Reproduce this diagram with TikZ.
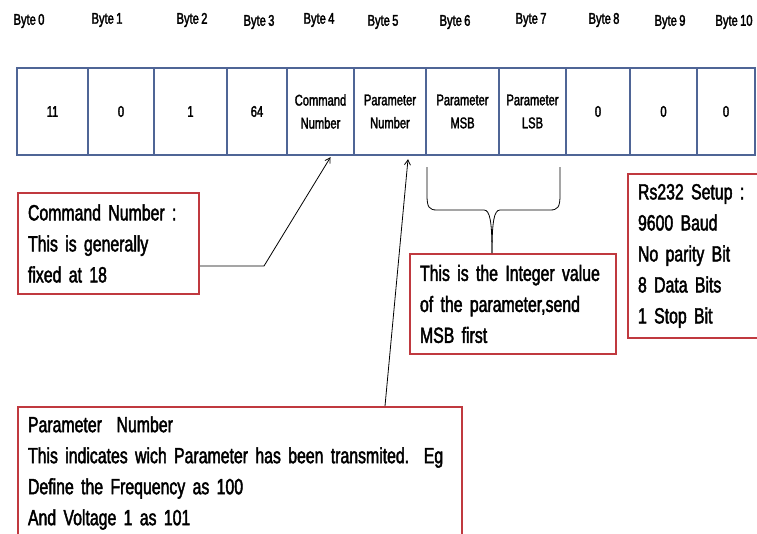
\documentclass[tikz,border=0pt]{standalone}
\usepackage{fontspec}
\setmainfont{Liberation Sans}[FakeStretch=0.72, FakeBold=2, WordSpace=0.75]
\usetikzlibrary{arrows.meta}
\definecolor{cellblue}{HTML}{4F6596}
\definecolor{boxred}{HTML}{C0393F}
\tikzset{
  cell/.style={draw=cellblue, line width=2.4pt, minimum height=87pt, inner sep=0pt, align=center, font=\fontsize{15.5}{23}\selectfont},
  bytelab/.style={font=\fontsize{15.5}{16}\selectfont, inner sep=0pt},
  redbox/.style={draw=boxred, line width=2pt, anchor=north west, inner xsep=10pt, inner ysep=0pt, align=left, font=\fontsize{22}{31}\selectfont},
  conn/.style={draw=black, line width=0.8pt},
  arr/.style={conn, -{Straight Barb[length=5pt,width=6pt]}}
}
\begin{document}
\begin{tikzpicture}[x=1pt,y=-1pt]
\useasboundingbox (0,0) rectangle (757,533);
% byte labels
\node[bytelab] (b0) at (29,21) {Byte 0};
\node[bytelab] (b1) at (107,20) {Byte 1};
\node[bytelab] (b2) at (192,20) {Byte 2};
\node[bytelab] (b3) at (259,22) {Byte 3};
\node[bytelab] (b4) at (319,20) {Byte 4};
\node[bytelab] (b5) at (383,22) {Byte 5};
\node[bytelab] (b6) at (455,22) {Byte 6};
\node[bytelab] (b7) at (531,20) {Byte 7};
\node[bytelab] (b8) at (604,20) {Byte 8};
\node[bytelab] (b9) at (670,22) {Byte 9};
\node[bytelab] (b10) at (734,22) {Byte 10};
% cells
\node[cell, minimum width=71pt] (c0) at (52.5,111.5) {11};
\node[cell, minimum width=66pt] (c1) at (121,111.5) {0};
\node[cell, minimum width=73pt] (c2) at (190.5,111.5) {1};
\node[cell, minimum width=60pt] (c3) at (257,111.5) {64};
\node[cell, minimum width=67pt] (c4) at (320.5,111.5) {Command\\Number};
\node[cell, minimum width=72pt] (c5) at (390,111.5) {Parameter\\Number};
\node[cell, minimum width=73pt] (c6) at (462.5,111.5) {Parameter\\MSB};
\node[cell, minimum width=67pt] (c7) at (532.5,111.5) {Parameter\\LSB};
\node[cell, minimum width=64pt] (c8) at (598,111.5) {0};
\node[cell, minimum width=67pt] (c9) at (663.5,111.5) {0};
\node[cell, minimum width=58pt] (c10) at (726,111.5) {0};
% red boxes
\node[redbox, text width=161pt, minimum height=101pt] (cmd) at (17,192)
  {Command Number :\\This is generally\\fixed at 18};
\node[redbox, text width=186pt, minimum height=100pt] (intv) at (409,253)
  {\mbox{This is the Integer value}\\of the parameter,send\\MSB first};
\node[redbox, text width=130pt, minimum height=164pt] (rs) at (627,173)
  {Rs232 Setup :\\9600 Baud\\No parity Bit\\8 Data Bits\\1 Stop Bit};
\node[redbox, text width=424pt, minimum height=132pt] (par) at (17,406)
  {Parameter\ \ Number\\\mbox{This indicates wich Parameter has been transmited.\ \ Eg}\\Define the Frequency as 100\\And Voltage 1 as 101};
% connectors
\coordinate (k1) at (264,266);
\coordinate (t1) at ([xshift=10pt,yshift=-1pt]c4.south);
\draw[arr] (cmd.east |- k1) -- (k1) -- (t1);
\coordinate (t2) at ([xshift=18pt,yshift=-3pt]c5.south);
\draw[arr] (par.north -| 385,0) -- (t2);
% brace
\coordinate (bt) at (intv.north -| 492,0);
\draw[conn] (427,167) -- (427,195) .. controls (427,207) and (429,210) .. (437,210)
  -- (484,210) .. controls (490,210) and (492,222) .. (bt);
\draw[conn] (560,167) -- (560,195) .. controls (560,207) and (558,210) .. (550,210)
  -- (500,210) .. controls (494,210) and (492,222) .. (bt);
\end{tikzpicture}
\end{document}
